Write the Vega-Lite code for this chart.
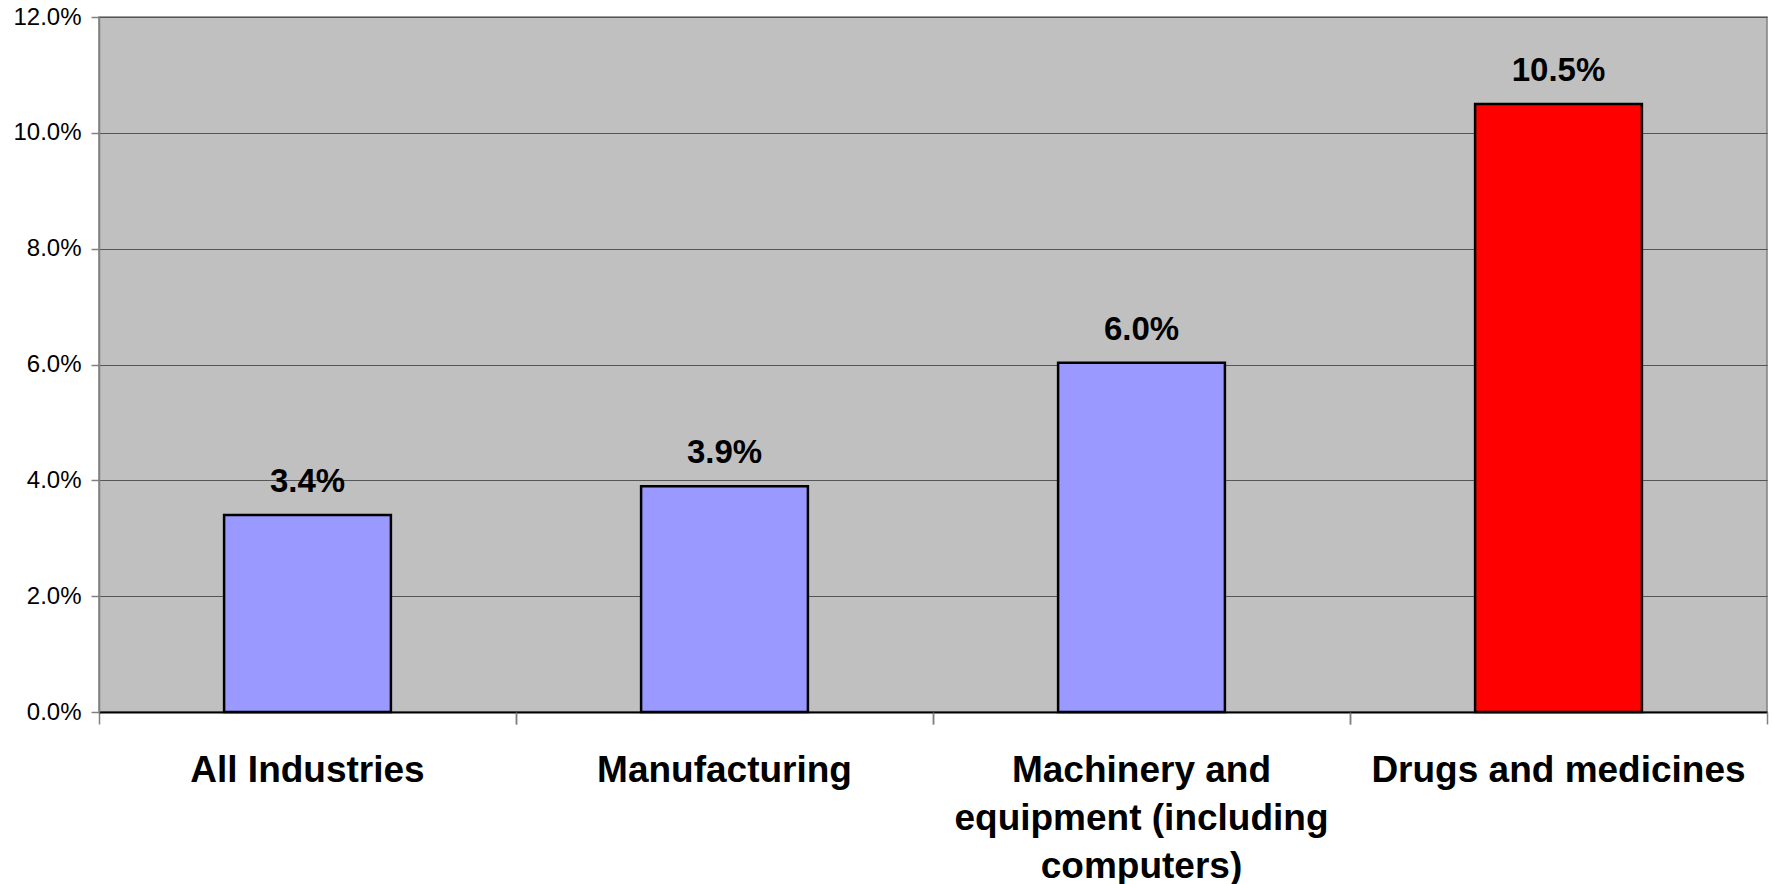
{
  "$schema": "https://vega.github.io/schema/vega-lite/v6.json",
  "width": 1668,
  "height": 695,
  "autosize": {"type": "none"},
  "padding": {"left": 99, "top": 17, "right": 6, "bottom": 172},
  "background": "white",
  "view": {"fill": "#C0C0C0", "stroke": "#808080", "strokeWidth": 1.5},
  "config": {"font": "Liberation Sans"},
  "data": {
    "values": [
      {"industry": "All Industries", "share": 0.034, "highlight": "no"},
      {"industry": "Manufacturing", "share": 0.039, "highlight": "no"},
      {"industry": "Machinery and equipment (including computers)", "share": 0.0603, "highlight": "no"},
      {"industry": "Drugs and medicines", "share": 0.105, "highlight": "yes"}
    ]
  },
  "encoding": {
    "y": {
      "field": "share",
      "type": "quantitative",
      "scale": {"domain": [0, 0.12], "nice": false},
      "axis": {
        "title": null,
        "format": ".1%",
        "values": [0, 0.02, 0.04, 0.06, 0.08, 0.1, 0.12],
        "labelFont": "Liberation Sans",
        "labelFontSize": 24,
        "labelColor": "black",
        "labelPadding": 10,
        "tickSize": 8,
        "tickColor": "#808080",
        "tickWidth": 1.5,
        "domainColor": "#808080",
        "domainWidth": 1.5,
        "grid": true,
        "gridColor": "#555555",
        "gridWidth": 1.2
      }
    }
  },
  "layer": [
    {
      "mark": {"type": "bar", "stroke": "black", "strokeWidth": 2.5},
      "encoding": {
        "x": {
          "field": "industry",
          "type": "nominal",
          "sort": null,
          "scale": {"paddingInner": 0.6, "paddingOuter": 0.3},
          "axis": {
            "title": null,
            "orient": "bottom",
            "labelAngle": 0,
            "labelFont": "Liberation Sans",
            "labelFontSize": 37,
            "labelFontWeight": "bold",
            "labelColor": "black",
            "labelLineHeight": 48,
            "labelPadding": 28,
            "labelLimit": 500,
            "labelExpr": "datum.value == 'Machinery and equipment (including computers)' ? ['Machinery and', 'equipment (including', 'computers)'] : datum.value",
            "bandPosition": -0.75,
            "tickSize": 12,
            "tickColor": "#808080",
            "tickWidth": 1.5,
            "domainColor": "black",
            "domainWidth": 2,
            "grid": false
          }
        },
        "color": {
          "field": "highlight",
          "type": "nominal",
          "scale": {"domain": ["no", "yes"], "range": ["#9999FF", "#FF0000"]},
          "legend": null
        }
      }
    },
    {
      "mark": {"type": "text", "font": "Liberation Sans", "fontSize": 33, "fontWeight": "bold", "color": "black", "baseline": "alphabetic", "dy": -23},
      "encoding": {
        "x": {
          "field": "industry",
          "type": "nominal",
          "sort": null,
          "axis": {
            "title": null,
            "orient": "bottom",
            "offset": 0,
            "labels": false,
            "domain": false,
            "grid": false,
            "bandPosition": 1.75,
            "tickSize": 12,
            "tickColor": "#808080",
            "tickWidth": 1.5
          }
        },
        "text": {"field": "share", "type": "quantitative", "format": ".1%"}
      }
    }
  ],
  "resolve": {"axis": {"x": "independent"}}
}
